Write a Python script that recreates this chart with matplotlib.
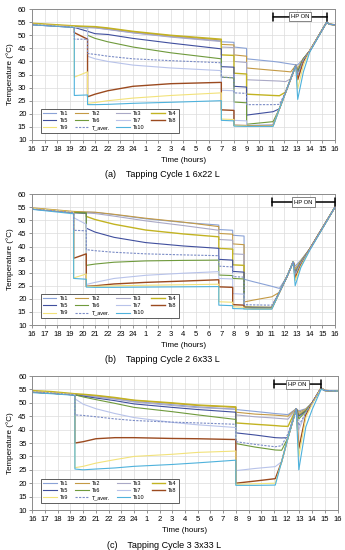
import matplotlib.pyplot as plt

plt.rcParams['font.family'] = ['Liberation Sans', 'DejaVu Sans']

# sensor names and colours (legend order Ts1..Ts10, T_aver.)
names = ['Ts1', 'Ts2', 'Ts3', 'Ts4', 'Ts5', 'Ts6', 'Ts7', 'Ts8', 'Ts9', 'Ts10', 'T_aver.']
colors = ['#8aa2d6', '#c49a45', '#aaa9c6', '#c2b322', '#404f9e', '#6f9a3c',
          '#b8c3ea', '#9b4a1f', '#f2e27a', '#4fb2dc', '#7b8cc6']

hour_labels = [16, 17, 18, 19, 20, 21, 22, 23, 24, 1, 2, 3, 4, 5, 6, 7,
               8, 9, 10, 11, 12, 13, 14, 15, 16]

# ---- Tapping cycle 1 (6x22 L) ----  hours after 16:00
t_a = [0, 3.35, 3.35, 4.4, 4.4, 5, 6, 8, 11, 15, 15, 16, 16, 17, 17,
       19.1, 19.6, 20.1, 20.5, 20.9, 21.05, 21.5, 22, 23.35, 23.55, 24]
a_ts1 = [54.2, 53.2, 53.2, 53, 53, 52.9, 52.3, 51, 49.5, 47.8, 47.5, 47.3, 45.5, 45, 41,
         40, 39.7, 39.3, 39, 38.7, 38.7, 41, 44, 55, 54.2, 54]
a_ts2 = [54.4, 53.4, 53.4, 53.2, 53.2, 53.1, 52.6, 51.3, 49.8, 48.2, 46.5, 46.3, 42.5, 42, 37.5,
         36.6, 36.4, 36.2, 36, 38.5, 37.5, 41, 44, 55, 54.2, 54]
a_ts3 = [54.1, 53.1, 53.1, 52.9, 52.9, 52.8, 52.2, 50.9, 49.3, 47.6, 45.5, 45.3, 40, 39.6, 33,
         32.6, 32.5, 32.3, 33.4, 38.5, 37, 41, 44, 55, 54.2, 54]
a_ts4 = [54.6, 53.6, 53.6, 53.4, 53.4, 53.3, 52.8, 51.5, 50, 48.5, 42.5, 42.3, 35.5, 35.2, 27.5,
         27, 26.9, 28.3, 33.4, 38.5, 36.5, 41, 44, 55, 54.2, 54]
a_ts5 = [54.0, 53.0, 53.0, 51.5, 51.5, 50.6, 50.3, 48.8, 47, 44.8, 38, 37.8, 30.5, 30.2, 19.5,
         20.8, 21.9, 28.3, 33.4, 38.5, 36, 41, 44, 55, 54.2, 54]
a_ts6 = [54.1, 53.1, 53.1, 52.8, 50, 48.8, 47.5, 45.5, 43.3, 41, 34, 33.7, 24.5, 24.2, 16,
         17, 21.9, 28.3, 33.4, 38.5, 35.5, 41, 44, 55, 54.2, 54]
a_ts7 = [54.0, 53.0, 53.0, 52.8, 42, 41, 40, 38.6, 37.5, 36.5, 29, 28.8, 17.5, 17.3, 15.6,
         15.9, 21.9, 28.3, 33.4, 38.5, 34.5, 40.5, 44, 55, 54.2, 54]
a_ts8 = [54.2, 53.2, 51, 48.5, 26.5, 27.5, 28.8, 30.5, 31.5, 32, 21.5, 21.3, 15.6, 15.5, 15.4,
         15.5, 21.9, 28.3, 33.4, 38.5, 33, 40, 44, 55, 54.2, 54]
a_ts9 = [54.3, 53.3, 34, 36, 24, 24.3, 25, 26, 27, 28, 18, 17.8, 15.5, 15.4, 15.3,
         15.4, 21.9, 28.3, 33.4, 38.5, 29.5, 38.5, 44, 55, 54.2, 54]
a_ts10 = [54.0, 53.0, 27, 27.2, 23.5, 23.5, 23.6, 24, 24.4, 25, 17.5, 17.3, 15.3, 15.2, 15.2,
          15.2, 21.9, 28.3, 33.4, 38.5, 25.5, 36, 43.5, 55, 54.2, 54]
a_aver = [54.1, 53.1, 48.5, 48.5, 43, 42.7, 42, 41, 40.3, 39.5, 34, 33.8, 28, 27.8, 23.5,
          23.5, 23.6, 28.3, 33.4, 38.5, 35, 40.5, 44, 55, 54.2, 54]
hp_a = (19.1, 23.4)

# ---- Tapping cycle 2 (6x33 L) ----
t_b = [0, 3.3, 3.3, 4.3, 4.3, 5, 6.5, 9, 12, 14.8, 14.8, 15.9, 15.9, 16.8, 16.8,
       17.5, 19, 19.6, 20.2, 20.7, 20.85, 21.3, 22, 24]
b_ts1 = [54.6, 53.2, 53.2, 53.1, 53.1, 53, 52.2, 50.6, 49.2, 48.2, 46.5, 46.2, 44.3, 44, 27.5,
         26.6, 24.8, 24, 28.5, 34.2, 32.5, 34.8, 39, 55]
b_ts2 = [54.8, 53.4, 53.4, 53.2, 53.2, 53.1, 52.3, 50.8, 49.3, 47.6, 45, 44.7, 41, 40.7, 18.8,
         19.5, 20.8, 22.5, 28.5, 34.2, 31.5, 34.6, 39, 55]
b_ts3 = [54.4, 53, 53, 52.8, 52.8, 52.6, 51.6, 49.8, 48, 46.2, 42.7, 42.4, 37.2, 37, 17.2,
         17, 16.9, 22.5, 28.5, 34.2, 31, 34.5, 39, 55]
b_ts4 = [54.5, 53.1, 53.1, 52.9, 51.5, 50.3, 48.5, 46.3, 44.8, 43.7, 39.3, 39, 33, 32.8, 17,
         16.8, 16.7, 22.5, 28.5, 34.2, 30.5, 34.3, 39, 55]
b_ts5 = [54.3, 52.9, 52.9, 52.7, 47, 45.5, 43.5, 41.5, 40.2, 39.3, 35.1, 34.8, 30.5, 30.2, 16.8,
         16.7, 16.6, 22.5, 28.5, 34.2, 30, 34, 39, 55]
b_ts6 = [54.4, 53, 53, 52.8, 32.8, 33.3, 34, 34.5, 34.7, 34.8, 29.1, 28.9, 27.8, 27.6, 16.6,
         16.5, 16.5, 22.5, 28.5, 34.2, 29.5, 33.8, 39, 55]
b_ts7 = [54.3, 52.9, 51, 48.5, 25.5, 26.3, 27.8, 29, 29.8, 30.4, 27.8, 27.6, 22, 21.8, 16.5,
         16.4, 16.4, 22.5, 28.5, 34.2, 29, 33.5, 39, 55]
b_ts8 = [54.5, 53.1, 35.5, 37.2, 24.8, 25, 25.7, 26.3, 26.8, 27.3, 24.6, 24.4, 17.8, 17.6, 16.4,
         16.3, 16.3, 22.5, 28.5, 34.2, 28, 33, 39, 55]
b_ts9 = [54.6, 53.2, 28, 29.5, 24.7, 24.8, 25, 25.2, 25.4, 25.6, 18.9, 18.7, 17, 16.8, 16.3,
         16.2, 16.2, 22.5, 28.5, 34.2, 27, 32.5, 38.8, 55]
b_ts10 = [54.2, 52.5, 27.8, 27.5, 24.5, 24.4, 24.4, 24.5, 24.6, 24.7, 17.6, 17.4, 16.3, 16.2, 16.1,
          16.1, 16.1, 22.5, 28.5, 34.2, 25, 32, 38.5, 55]
b_aver = [54.4, 53, 46.2, 46, 38.8, 38.4, 37.8, 37.2, 36.8, 36.5, 32.5, 32.2, 28.5, 28.3, 17.8,
          17.7, 17.6, 22.5, 28.5, 34.2, 30, 34, 39, 55]
hp_b = (19.0, 24.0)

# ---- Tapping cycle 3 (3x33 L) ----
t_c = [0, 1.5, 3.35, 3.35, 4, 5, 6.5, 8, 11, 13, 16, 16, 17.5, 19.1,
       19.6, 20.1, 20.75, 20.95, 21.5, 22, 22.7, 23, 24]
c_ts1 = [54, 53.6, 53, 53, 52.8, 52.3, 51.5, 50.5, 49.3, 48.5, 47.6, 47.5, 46.8, 46,
         45.8, 45.6, 47.8, 47, 47.8, 50, 55.5, 54.6, 54.4]
c_ts2 = [54.3, 54, 53.2, 53.2, 53, 52.6, 51.8, 50.9, 49.8, 49, 48.3, 46.5, 45.8, 45.4,
         45.2, 45, 47.8, 46.5, 47.6, 50, 55.5, 54.6, 54.4]
c_ts3 = [54, 53.6, 53, 53, 52.8, 52.3, 51.4, 50.3, 49, 48.2, 47.6, 45.5, 44.8, 44.3,
         44.1, 43.9, 47.8, 46, 47.5, 50, 55.5, 54.6, 54.4]
c_ts4 = [54.6, 54.2, 53.4, 53.4, 53.2, 52.8, 52, 51, 50, 49.2, 48.5, 42.5, 42, 41.5,
         41.3, 41.2, 47.8, 45.5, 47.3, 50, 55.5, 54.6, 54.4]
c_ts5 = [54, 53.6, 52.9, 52.9, 52.5, 51.8, 50.8, 49.6, 48.3, 47.5, 46.5, 38.8, 38, 37,
         36.9, 37, 47.8, 45, 47, 50, 55.5, 54.6, 54.4]
c_ts6 = [54, 53.6, 53, 53, 52.2, 51.2, 49.8, 48.3, 46.7, 45.5, 43.8, 34.8, 33.5, 32.4,
         32.3, 37, 47.8, 44, 46.8, 50, 55.5, 54.6, 54.4]
c_ts7 = [54, 53.6, 53, 51.5, 49.5, 47.8, 46, 44.5, 42.7, 41.8, 40.8, 24.7, 25.5, 26.2,
         28, 37, 47.8, 40, 46.3, 50, 55.5, 54.6, 54.4]
c_ts8 = [54, 53.6, 53, 35, 35.5, 36.6, 37, 37, 36.7, 36.6, 36.3, 20, 20.8, 21.7,
         28, 37, 47.8, 33, 45.5, 50, 55.5, 54.6, 54.4]
c_ts9 = [54.2, 53.8, 53.1, 25.8, 26.3, 27.5, 28.8, 30, 30.8, 31.5, 32, 19.6, 19.8, 20,
         28, 37, 47.8, 30, 44.5, 49.5, 55.5, 54.6, 54.4]
c_ts10 = [53.8, 53.4, 52.8, 25.3, 25, 25.3, 25.7, 26.3, 27, 27.6, 28.6, 19.2, 19.2, 19.3,
          28, 37, 47.8, 25, 41, 47.5, 55, 54.6, 54.4]
c_aver = [54.1, 53.7, 53, 45.5, 45.3, 44.8, 44, 43.4, 42.8, 42.5, 42, 35.5, 34.5, 33.6,
          34, 38.5, 47.8, 41.5, 46.3, 50, 55.5, 54.6, 54.4]
hp_c = (19.0, 22.7)

panels = [
    (t_a, [a_ts1, a_ts2, a_ts3, a_ts4, a_ts5, a_ts6, a_ts7, a_ts8, a_ts9, a_ts10, a_aver],
     hp_a, '(a)    Tapping Cycle 1 6x22 L', [0.0928, 0.7455, 0.878, 0.238]),
    (t_b, [b_ts1, b_ts2, b_ts3, b_ts4, b_ts5, b_ts6, b_ts7, b_ts8, b_ts9, b_ts10, b_aver],
     hp_b, '(b)    Tapping Cycle 2 6x33 L', [0.0928, 0.409, 0.878, 0.238]),
    (t_c, [c_ts1, c_ts2, c_ts3, c_ts4, c_ts5, c_ts6, c_ts7, c_ts8, c_ts9, c_ts10, c_aver],
     hp_c, '(c)    Tapping Cycle 3 3x33 L', [0.0936, 0.0727, 0.885, 0.2436]),
]

# legend filled row by row: Ts1 Ts2 Ts3 Ts4 / Ts5 .. Ts8 / Ts9 T_aver. Ts10
legend_order = [0, 4, 8, 1, 5, 10, 2, 6, 9, 3, 7]

fig = plt.figure(figsize=(3.45, 5.5), dpi=100)

for t, series, hp, caption, rect in panels:
    ax = fig.add_axes(rect)
    lines = []
    for i, y in enumerate(series):
        ls = (0, (2, 1.2)) if names[i] == 'T_aver.' else '-'
        lw = 1.0 if names[i] in ('Ts4', 'Ts8') else 0.8
        ln, = ax.plot(t, y, color=colors[i], lw=lw, ls=ls, label=names[i])
        lines.append(ln)

    ax.set_xlim(0, 24)
    ax.set_ylim(10, 60)
    ax.set_xticks(range(25))
    ax.set_xticklabels(hour_labels)
    ax.set_yticks(range(10, 61, 5))
    ax.grid(True, color='#dcdcdc', lw=0.5)
    ax.set_axisbelow(True)
    ax.tick_params(labelsize=5.5, length=2, width=0.5, color='#666666', pad=2)
    for sp in ax.spines.values():
        sp.set_color('#8c8c8c')
        sp.set_linewidth(0.7)
    ax.set_ylabel('Temperature (°C)', fontsize=5.8, labelpad=3)
    ax.set_xlabel('Time (hours)', fontsize=5.8, labelpad=3)
    ax.text(0.43, -0.265, caption, transform=ax.transAxes, ha='center', va='center',
            fontsize=6.5)

    # HP ON marker
    ax.annotate('', xy=(hp[0], 57), xytext=(hp[1], 57),
                arrowprops=dict(arrowstyle='|-|, widthA=0.3, widthB=0.3',
                                color='black', lw=1.1, shrinkA=0, shrinkB=0))
    ax.text((hp[0] + hp[1]) / 2, 57, 'HP ON', ha='center', va='center', fontsize=4.2,
            bbox=dict(boxstyle='square,pad=0.35', fc='white', ec='#555555', lw=0.5))

    leg = ax.legend([lines[k] for k in legend_order], [names[k] for k in legend_order],
                    ncol=4, loc='lower left', bbox_to_anchor=(0.02, 0.035),
                    fontsize=4.0, handlelength=2.4, handletextpad=0.6, columnspacing=1.2,
                    labelspacing=0.4, borderpad=0.4, fancybox=False, framealpha=1)
    leg.get_frame().set_edgecolor('#444444')
    leg.get_frame().set_linewidth(0.6)

fig.savefig('out.png', dpi=100)
